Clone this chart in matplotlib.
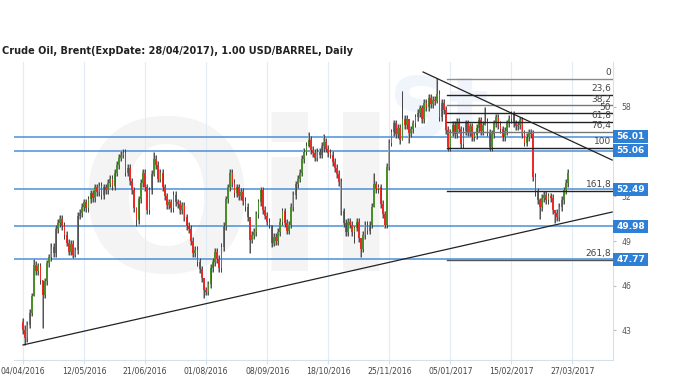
import numpy as np
import matplotlib
matplotlib.use("Agg")
import matplotlib.pyplot as plt
from matplotlib.patches import Rectangle
import matplotlib.transforms as mtransforms

# daily closes, Brent, 04/04/2016 onwards
closes = [
    43.0, 42.5, 43.4, 44.2, 45.3, 47.4, 47.0, 47.3, 46.4, 45.4,
    46.3, 47.5, 47.9, 48.6, 48.2, 49.8, 50.2, 50.5, 50.0, 49.4,
    48.9, 48.3, 48.8, 48.1, 48.4, 50.7, 50.9, 51.3, 51.6, 51.2,
    51.8, 52.2, 51.9, 52.6, 52.3, 52.7, 52.1, 52.6, 52.4, 52.9,
    53.2, 52.7, 53.6, 54.1, 54.6, 54.8, 54.9, 53.6, 53.9, 53.0,
    52.4, 51.2, 50.4, 51.8, 52.9, 53.6, 52.6, 51.1, 52.4, 53.5,
    54.5, 54.1, 53.2, 53.6, 52.6, 52.0, 51.4, 51.6, 51.2, 52.1,
    51.6, 51.5, 51.1, 51.4, 50.6, 50.0, 49.8, 49.0, 48.2, 48.4,
    47.6, 47.1, 46.5, 45.7, 45.6, 46.1, 47.2, 47.6, 48.3, 47.8,
    47.2, 48.6, 50.0, 51.8, 52.6, 53.6, 52.9, 52.2, 52.6, 52.0,
    52.3, 51.7, 51.3, 50.6, 49.1, 49.4, 49.6, 50.8, 51.6, 52.4,
    51.1, 50.7, 50.3, 50.1, 48.9, 49.3, 49.0, 49.6, 50.3, 51.0,
    50.2, 49.7, 50.1, 51.3, 52.1, 52.8, 53.2, 53.6, 54.5, 55.0,
    55.4, 55.8, 55.1, 54.9, 54.6, 55.0, 54.8, 55.4, 55.65, 55.2,
    54.9, 54.8, 54.3, 53.9, 53.5, 52.96, 51.0, 50.2, 49.6, 50.3,
    50.1, 49.6, 49.9, 50.3, 49.2, 48.5, 49.4, 50.1, 49.7, 50.1,
    51.3, 52.8, 52.5, 52.6, 51.5, 50.8, 50.1, 54.0, 55.6, 56.3,
    56.9, 56.2, 56.6, 55.8, 57.2, 56.8, 57.2, 56.25, 56.5, 56.9,
    57.3, 57.6, 57.9, 57.2, 58.3, 58.0, 58.6, 58.2, 58.5, 58.4,
    58.9, 57.3, 58.3, 57.8, 56.45, 55.3, 56.3, 56.8, 56.2, 57.0,
    56.5, 55.5, 56.4, 56.9, 56.3, 56.7, 56.0, 56.1, 56.6, 57.1,
    56.4, 56.8, 57.0, 56.3, 55.3, 56.2, 56.9, 57.3, 56.8, 56.5,
    56.0, 56.4, 56.9, 57.2, 57.5, 56.9, 56.7, 56.8, 57.1, 56.2,
    55.6, 56.0, 56.3, 56.2, 53.3, 52.3, 51.75, 51.3, 51.9, 52.1,
    51.75, 52.0, 51.9, 51.1, 50.9, 50.6, 51.3, 51.75, 52.4, 52.9,
    53.6,
]
first_open = 43.6
# bars with long shadows: index -> (high, low)
long_wicks = {
    1: (43.4, 42.0), 5: (47.8, 45.3), 9: (46.4, 43.2), 24: (48.6, 47.9),
    46: (55.2, 54.6), 52: (51.3, 50.0), 60: (55.0, 53.4), 83: (46.5, 45.2),
    104: (50.6, 48.2), 114: (50.1, 48.6), 131: (56.3, 55.3), 138: (56.2, 55.0),
    152: (50.0, 48.9), 155: (49.2, 47.9), 161: (53.6, 51.3), 174: (59.1, 55.8),
    177: (57.2, 55.6), 190: (59.95, 58.3), 212: (58.0, 56.8), 237: (51.9, 50.5),
    244: (51.1, 50.2),
}

date_labels = ['04/04/2016', '12/05/2016', '21/06/2016', '01/08/2016', '08/09/2016',
               '18/10/2016', '25/11/2016', '05/01/2017', '15/02/2017', '27/03/2017']
date_idx = [0, 28, 56, 84, 112, 140, 168, 196, 224, 252]

price_lines = [56.01, 55.06, 52.49, 49.98, 47.77]
y_ticks = [43, 46, 49, 52, 55, 58]
y_tick_labels = ['43', '46', '49', '52', '', '58']  # 55 sits under the 55.06 box

fib_top = 59.88
fib_bottom = 55.25
fib_levels = [0, 23.6, 38.2, 50, 61.8, 76.4, 100, 161.8, 261.8]
fib_labels = ['0', '23,6', '38,2', '50', '61,8', '76,4', '100', '161,8', '261,8']
fib_colors = ['#8a8a8a', '#222222', '#777777', '#222222', '#222222', '#777777',
              '#222222', '#222222', '#555555']
fib_start = 194.5

support_line = ([0, 270.2], [42.03, 50.95])
resistance_line = ([183.5, 270.2], [60.35, 54.44])

fig = plt.figure(figsize=(6.8, 3.81), dpi=100)
ax = fig.add_axes([14 / 680, 1 - 360 / 381, 599 / 680, 298 / 381])
ax.set_xlim(-4.13, 270.6)
ax.set_ylim(41.02, 61.02)

# faint logo watermark
ax.text(25, 47.0, 'Oil', fontsize=150, color='#f4f4f4', fontweight='bold', zorder=0)
ax.text(168, 56.0, 'St', fontsize=60, color='#f0f5fb', fontweight='bold', zorder=0)

for d in date_idx:
    ax.axvline(d, color='#e2ecf6', lw=0.8, zorder=0.5)

opens = [first_open] + closes[:-1]
for i, (o, c) in enumerate(zip(opens, closes)):
    hi, lo = max(o, c) + 0.25, min(o, c) - 0.25
    if i in long_wicks:
        hi, lo = long_wicks[i]
    col = '#4a8f2a' if c >= o else '#ec2a2a'
    ax.vlines(i - 0.4, lo, hi, color='#a8a8a8', lw=0.7, zorder=2)
    ax.vlines(i, lo, hi, color='#333333', lw=0.6, zorder=2)
    body = max(abs(c - o), 0.08)
    ax.add_patch(Rectangle((i - 0.36, min(o, c)), 0.72, body, fc=col, ec='none', zorder=3))

for p in price_lines:
    ax.axhline(p, color='#4a8fdc', lw=1.1, zorder=1.5)

span = fib_top - fib_bottom
for lev, lab, col in zip(fib_levels, fib_labels, fib_colors):
    y = fib_top - lev / 100 * span
    ax.plot([fib_start, 270.6], [y, y], color=col, lw=1.0, zorder=4)
    ax.text(269.8, y + 0.12, lab, ha='right', va='bottom', fontsize=6.5, color='#444444', zorder=5)

ax.plot(*support_line, color='#222222', lw=0.9, zorder=4)
ax.plot(*resistance_line, color='#222222', lw=0.9, zorder=4)

for s in ['top', 'left']:
    ax.spines[s].set_visible(False)
for s in ['bottom', 'right']:
    ax.spines[s].set_color('#d4e0ec')

ax.set_xticks(date_idx)
ax.set_xticklabels(date_labels, fontsize=5.6, color='#444444')
ax.tick_params(axis='x', length=3, color='#d4e0ec', pad=2)
ax.yaxis.tick_right()
ax.set_yticks(y_ticks)
ax.set_yticklabels(y_tick_labels, fontsize=5.6, color='#555555')
ax.tick_params(axis='y', length=2, color='#bbbbbb', pad=4)

# price boxes on the right
trans = mtransforms.blended_transform_factory(ax.transAxes, ax.transData)
box_w = 35 / 599
box_h = 13 / 14.9
for p in price_lines:
    ax.add_patch(Rectangle((1.0, p - box_h / 2), box_w, box_h, transform=trans,
                           fc='#2e7fd6', ec='none', clip_on=False, zorder=10))
    ax.text(1.0 + box_w / 2, p, f'{p:.2f}', transform=trans, ha='center', va='center',
            fontsize=6.5, color='white', fontweight='bold', clip_on=False, zorder=11)

fig.text(2 / 680, 1 - 51 / 381, 'Crude Oil, Brent(ExpDate: 28/04/2017), 1.00 USD/BARREL, Daily',
         fontsize=7, fontweight='bold', color='#222222', va='center', ha='left')

fig.savefig('out.png', dpi=100)
